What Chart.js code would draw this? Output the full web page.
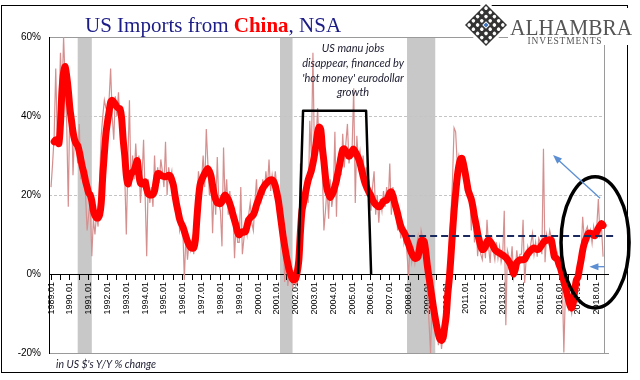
<!DOCTYPE html>
<html lang="en">
<head>
<meta charset="UTF-8" />
<title>US Imports from China, NSA</title>
<script src="https://cdn.jsdelivr.net/npm/chart.js"></script>
<style>
  html, body { margin: 0; padding: 0; background: #fff; }
  #wrap { width: 640px; height: 380px; }
</style>
</head>
<body>
<div id="wrap"><canvas id="chart" width="640" height="380"></canvas></div>
<script>
// monthly y/y % change, first value is 1989.01
const startYear = 1989;

const yoy = [
  22, 28, 35, 52, 34, 40, 56, 45, 60, 49, 38, 17,          // 1989
  44, 45, 25, 36, 33, 28, 38, 24, 31, 26, 20, 11,          // 1990
  15, 18, 4.5, 14, 10, 15, 12, 24, 35, 40, 44, 42,         // 1991
  42, 44, 52, 40, 34, 45, 40, 46, 38, 40, 30, 25,          // 1992
  10, 28, 44, 22, 30, 24, 33, 26, 30, 18, 24, 34,          // 1993
  20, 4.5, 24, 18, 22, 17, 30, 21, 27, 23, 29, 26,         // 1994
  22, 33.5, 20, 27, 24, 26, 19, 22, 14, 17, 11, 13,        // 1995
  12, -1.5, 10, 3.6, 8, 6, 9, 5, 12, 18, 26, 21,           // 1996
  24, 30, 22, 36.7, 28, 20, 26, 10.3, 22, 15, 29.6, 18,    // 1997
  16, 7, 32, 18, 24, 15, 21, 14, 17, 4, 13, 8,             // 1998
  8, 22, 5, 9, 13, 10, 15, 18, 13, 11, 18, 24,             // 1999
  16, 22, 19, 24, 20, 26, 22, 29, 21, 25, 22, 26,          // 2000
  22, 15, 17, 8, 10, -2, 6, -3, 2, -1, -3, 1,              // 2001
  -3, -2, 6, 28, 15, 21, 19, 25, 18, 38.8, 30, 56,         // 2002
  29, 34, 42, 31, 36, 26, 11, 16, 22, 14, 24, 17,          // 2003
  20, 36, 14.5, 29, 31, 25, 35.5, 27, 33, 38, 28, 31,      // 2004
  32, 47, 18, 35, 28, 31, 26, 30, 24, 27, 21, 23,          // 2005
  16, 22, 26, 15, 20, 13, 19, 16, 21, 17, 22, 18,          // 2006
  28, 15, 22, 16, 18, 11, 15, 9, 13, 8, 11, 5,             // 2007
  -0.5, 8, 3, 6, 2.8, 7, 9.5, 5, 11, 9, 3.6, 6,            // 2008
  -4, -12, -20, -6, -10, -15, -13, -18, -14, -19, -15, -10, // 2009
  -6, -1, 8, 15, 24, 37, 36, 28, 30, 26, 29, 27,           // 2010
  22, 24, 19.5, 21, 11, 18, 8, 14, 4.5, 9.5, 5, 3.6,       // 2011
  8, 4, 13.7, 7, 2.8, 9.5, 6, 3.6, 8, 4, 7, 3,             // 2012
  5, 16, -13, 6, 4.4, 2, 7, -1, 1.1, 6, 2, 5,              // 2013
  5, 13.7, -2.3, 4, 7, 5, 7.8, 10.3, 5, 8, 4.4, 9,         // 2014
  8, 5, 31.7, 3, 10, 8, 11, 9, 5, 4.4, 2.8, 5,             // 2015
  1, -2, -1, -19.9, -4, -6, -9, -8, -10, -6, -2.3, -5,     // 2016
  2, 4.4, 5, 14.5, 9, 11, 12, 9, 11, 7.8, 12, 9.5,         // 2017
  12, 19, 10, 12, 4.4                                      // 2018
];

const smoothed = [
  null, null, 33.5, 34, 33.5, 33, 38, 46.5, 51, 52.5, 50, 46.5,
  42, 39, 36, 34, 33, 32.5, 31, 29, 27, 25.5, 23.5, 22,
  20.5, 20, 18.5, 16, 14.8, 14.2, 14.2, 15, 18, 25, 30.5, 35.5,
  38.5, 41, 43.5, 44, 43.5, 43, 42.3, 42, 41.8, 39.5, 34, 30,
  25, 22.8, 24, 25.3, 25.8, 26.2, 27.5, 28.7, 25, 23, 22.8, 23,
  23.3, 21.5, 20.2, 20, 20, 20.2, 21, 23.5, 25.4, 25.4, 25, 24.8,
  24.7, 24.6, 24.8, 25, 24.8, 23.8, 22.5, 20, 17.7, 15.8, 13.9, 12.8,
  12, 10.8, 9.5, 8.3, 7.4, 6.7, 6.5, 6.6, 8.5, 14, 19, 22.5,
  23.8, 24.7, 25.5, 26.2, 26.7, 26, 24.8, 22.5, 20.2, 18.8, 18, 17.9,
  17.8, 18.3, 19.4, 20, 19.5, 18.9, 17.8, 16.6, 15, 13.6, 12.2, 10.5,
  9.9, 10.3, 10.7, 10.6, 10.7, 12.2, 13.7, 14.2, 14.6, 15, 16, 17.4,
  18.5, 19.6, 20.7, 21.6, 22.3, 22.8, 23.2, 23.6, 23.8, 23.8, 23.4, 22.3,
  20.5, 18.5, 15.5, 12.5, 9.5, 7, 4.6, 2.6, 0.8, -0.4, -1.3, -1.5,
  -1.2, 0.5, 3.5, 10.5, 16, 18, 20, 22, 23.8, 25, 26.2, 28,
  30.2, 33, 36, 37.2, 36.5, 32, 28.5, 24.5, 21.5, 20.2, 19.4, 20,
  20.8, 22.2, 23.7, 25.8, 27.6, 29.8, 31.4, 31.7, 31, 30.5, 29.8, 30.2,
  31.2, 31.6, 30.9, 30.2, 29.3, 28.1, 26.5, 24.8, 23.3, 22.2, 21.3, 20.5,
  19.8, 18.8, 18.1, 17.6, 17.3, 17, 17.2, 17.8, 18.4, 18.6, 18.7, 19.5,
  20.5, 20.8, 19.8, 18.2, 16.8, 15.3, 13.6, 12.1, 11.2, 10.6, 9.8, 8.5,
  7.5, 6.3, 5.2, 4.5, 4, 4, 4.4, 6.5, 8.4, 8.6, 8.2, 5.5,
  2, -0.8, -3.5, -6.2, -8.9, -11.2, -13.4, -15.2, -16.5, -16.8, -16.2, -13.5,
  -10.5, -5, -1, 4.5, 10.5, 16, 20.5, 24.5, 27.3, 29, 29.3, 27.8,
  25.8, 23.5, 21.2, 20, 18.9, 17, 14.5, 12.6, 10.3, 8.6, 7, 6.2,
  6.3, 7, 8.2, 8.6, 8.2, 7.7, 7, 6.2, 5.8, 5.5, 5.3, 5,
  4.8, 4.5, 4.2, 3.7, 3.1, 2.4, 1.2, 0, 1.2, 2.9, 3.3, 3.6,
  3.6, 3.6, 3.7, 4.4, 5.1, 5.6, 6, 6.4, 6.6, 6.4, 6.2, 6.3,
  6.8, 7.4, 8, 8.4, 8.5, 8.6, 8.7, 8.6, 6.5, 4.3, 4, 3.6,
  2.3, 1.3, -0.2, -1.7, -3.3, -5, -6.6, -8, -8.6, -7.3, -4, -1.5,
  -0.8, 1.5, 3.6, 6, 7.7, 8.8, 9.8, 10.4, 10.3, 10.2, 9.8, 9.8,
  10.8, 11.6, 12.2, 12.8, 12.3
];

const yTicks = [-20, 0, 20, 40, 60];
const recessions = [['1990.06', '1991.03'], ['2001.03', '2001.11'], ['2007.12', '2009.06']];

// annotations, in (month index, %) units
const noteLines = ['US manu jobs', 'disappear, financed by', "'hot money' eurodollar", 'growth'];
const noteAt = [192.6, 57];
const boxPath = [[157.5, 0], [160.7, 41.3], [200.9, 41.3], [204.1, 0]];
const trendLevel = 9.6, trendFrom = 227.7, trendTo = 359;
const ring = { x0: 325.2, x1: 368.6, y0: -8.6, y1: 24.6 };
const arrows = [
  { from: [350.1, 19.2], to: [320.1, 30.1] },
  { from: [352.9, 1.85], to: [343.3, 1.85] }
];

const months = yoy.map((_, i) => `${startYear + Math.floor(i / 12)}.${String(i % 12 + 1).padStart(2, '0')}`);
const monthIndex = s => (parseInt(s) - startYear) * 12 + parseInt(s.split('.')[1]) - 1;

function drawArrow(ctx, x0, y0, x1, y1) {
  const ang = Math.atan2(y1 - y0, x1 - x0);
  ctx.strokeStyle = '#5b8ed2';
  ctx.fillStyle = '#5b8ed2';
  ctx.lineWidth = 1.3;
  ctx.beginPath();
  ctx.moveTo(x0, y0);
  ctx.lineTo(x1 - 6 * Math.cos(ang), y1 - 6 * Math.sin(ang));
  ctx.stroke();
  ctx.beginPath();
  ctx.moveTo(x1, y1);
  ctx.lineTo(x1 - 9 * Math.cos(ang) + 3.5 * Math.sin(ang), y1 - 9 * Math.sin(ang) - 3.5 * Math.cos(ang));
  ctx.lineTo(x1 - 9 * Math.cos(ang) - 3.5 * Math.sin(ang), y1 - 9 * Math.sin(ang) + 3.5 * Math.cos(ang));
  ctx.closePath();
  ctx.fill();
}

function drawLogo(ctx, cx, cy, r) {
  ctx.save();
  ctx.translate(cx, cy);
  ctx.rotate(Math.PI / 4);
  const s = r / Math.SQRT2;
  ctx.fillStyle = '#fff';
  ctx.fillRect(-s - 3, -s - 3, 2 * s + 6, 2 * s + 6);
  ctx.fillStyle = '#333';
  ctx.fillRect(-s, -s, 2 * s, 2 * s);
  const n = 5, c = 2 * s / n;
  for (let i = 0; i < n; i++) {
    for (let j = 0; j < n; j++) {
      const x = -s + c * (i + 0.5), y = -s + c * (j + 0.5);
      if (i === 2 && j === 2) {
        ctx.fillStyle = '#fff';
        ctx.fillRect(x - c * 0.45, y - c * 0.45, c * 0.9, c * 0.9);
        ctx.fillStyle = '#3f74bf';
        ctx.fillRect(x - c * 0.3, y - c * 0.3, c * 0.6, c * 0.6);
      } else {
        ctx.fillStyle = '#fff';
        ctx.beginPath();
        ctx.arc(x, y, c * 0.3, 0, Math.PI * 2);
        ctx.fill();
      }
    }
  }
  ctx.restore();
}

const decor = {
  id: 'decor',
  beforeDraw(chart) {
    const { ctx, chartArea: a, scales: { x, y } } = chart;
    ctx.save();
    ctx.fillStyle = '#fff';
    ctx.fillRect(0, 0, chart.width, chart.height);
    ctx.fillStyle = '#c8c8c8';
    recessions.forEach(([s, e]) => {
      const x0 = x.getPixelForValue(monthIndex(s)), x1 = x.getPixelForValue(monthIndex(e));
      ctx.fillRect(x0, a.top, x1 - x0, a.bottom - a.top);
    });
    yTicks.forEach(v => {
      const yy = Math.round(y.getPixelForValue(v)) + 0.5;
      ctx.beginPath();
      if (v === 0) {
        ctx.strokeStyle = '#000';
        ctx.setLineDash([]);
        ctx.moveTo(a.right, yy);
        ctx.lineTo(a.right + 5, yy);
      } else if (v === yTicks[0] || v === yTicks[yTicks.length - 1]) {
        ctx.strokeStyle = '#9a9a9a';
        ctx.setLineDash([]);
        ctx.moveTo(a.left, yy);
        ctx.lineTo(a.right + 5, yy);
      } else {
        ctx.strokeStyle = '#c4c4c4';
        ctx.setLineDash([3, 2]);
        ctx.moveTo(a.left, yy);
        ctx.lineTo(a.right, yy);
      }
      ctx.lineWidth = 1;
      ctx.stroke();
    });
    ctx.setLineDash([]);
    ctx.strokeStyle = '#9a9a9a';
    ctx.beginPath();
    ctx.moveTo(Math.round(a.right) + 0.5, a.top);
    ctx.lineTo(Math.round(a.right) + 0.5, a.bottom);
    ctx.stroke();
    ctx.restore();
  },
  afterDatasetsDraw(chart) {
    const { ctx, scales: { x, y } } = chart;
    const px = v => x.getPixelForValue(v), py = v => y.getPixelForValue(v);
    ctx.save();
    // level line
    ctx.strokeStyle = '#1b2a5e';
    ctx.lineWidth = 2;
    ctx.setLineDash([7, 4]);
    ctx.beginPath();
    ctx.moveTo(px(trendFrom), py(trendLevel));
    ctx.lineTo(px(trendTo), py(trendLevel));
    ctx.stroke();
    ctx.setLineDash([]);
    // box over 2002-2005
    ctx.strokeStyle = '#000';
    ctx.lineWidth = 2.5;
    ctx.lineJoin = 'round';
    ctx.beginPath();
    boxPath.forEach(([m, v], i) => i ? ctx.lineTo(px(m), py(v)) : ctx.moveTo(px(m), py(v)));
    ctx.stroke();
    // ring round the latest data
    const ex0 = px(ring.x0), ex1 = px(ring.x1), ey0 = py(ring.y0), ey1 = py(ring.y1);
    ctx.lineWidth = 3.5;
    ctx.beginPath();
    ctx.ellipse((ex0 + ex1) / 2, (ey0 + ey1) / 2, (ex1 - ex0) / 2, Math.abs(ey0 - ey1) / 2, 0, 0, Math.PI * 2);
    ctx.stroke();
    arrows.forEach(a => drawArrow(ctx, px(a.from[0]), py(a.from[1]), px(a.to[0]), py(a.to[1])));
    // note
    ctx.font = 'italic 11px Lato';
    ctx.fillStyle = '#1b1b2f';
    ctx.textAlign = 'center';
    ctx.textBaseline = 'middle';
    noteLines.forEach((t, i) => ctx.fillText(t, px(noteAt[0]), py(noteAt[1]) + i * 14.7));
    ctx.restore();
  },
  afterDraw(chart) {
    const { ctx } = chart;
    ctx.save();
    // frame
    ctx.strokeStyle = '#000';
    ctx.lineWidth = 1;
    ctx.strokeRect(1.5, 5.5, 626, 367);
    // title
    ctx.textBaseline = 'alphabetic';
    ctx.textAlign = 'left';
    let tx = 85;
    const parts = [['US Imports from ', '#1c1c86', ''], ['China', '#ff0000', 'bold '], [', NSA', '#1c1c86', '']];
    parts.forEach(([t, col, w]) => {
      ctx.font = w + '21px "Liberation Serif"';
      ctx.fillStyle = col;
      ctx.fillText(t, tx, 32);
      tx += ctx.measureText(t).width;
    });
    // logo
    drawLogo(ctx, 486, 25, 21);
    ctx.fillStyle = '#fff';
    ctx.fillRect(508, 8, 126, 37);
    ctx.fillStyle = '#555';
    ctx.font = '22px "Liberation Serif"';
    ctx.save();
    ctx.translate(510, 35);
    ctx.scale(0.97, 1.08);
    ctx.fillText('ALHAMBRA', 0, 0);
    ctx.restore();
    ctx.font = '9.5px "Liberation Serif"';
    ctx.letterSpacing = '0.8px';
    ctx.textAlign = 'center';
    ctx.fillText('INVESTMENTS', 565, 44);
    ctx.letterSpacing = '0px';
    // unit note
    ctx.textAlign = 'left';
    ctx.fillStyle = '#1b1b2f';
    ctx.font = 'italic 10.5px Lato';
    ctx.fillText("in US $'s Y/Y % change", 56, 368);
    ctx.restore();
  }
};

new Chart(document.getElementById('chart'), {
  type: 'line',
  data: {
    labels: months,
    datasets: [
      {
        label: 'Smoothed',
        data: smoothed.map((v, i) => ({ x: i, y: v })),
        borderColor: '#ff0000',
        borderWidth: 7,
        borderJoinStyle: 'round',
        borderCapStyle: 'round',
        pointRadius: 0,
        tension: 0.3,
        clip: false
      },
      {
        label: 'Y/Y',
        data: yoy.map((v, i) => ({ x: i, y: v })),
        borderColor: '#d68f8f',
        borderWidth: 1.2,
        pointRadius: 0,
        tension: 0,
        clip: false
      }
    ]
  },
  options: {
    responsive: false,
    animation: false,
    events: [],
    layout: { padding: { left: 0, top: 37, right: 36, bottom: 27 } },
    plugins: {
      legend: { display: false },
      tooltip: { enabled: false }
    },
    scales: {
      x: {
        type: 'linear',
        position: { y: 0 },
        min: -1.3,
        max: 352.6,
        afterBuildTicks: s => {
          const t = [];
          for (let i = 0; i < months.length; i += 6) t.push({ value: i });
          s.ticks = t;
        },
        ticks: {
          autoSkip: false,
          minRotation: 90,
          maxRotation: 90,
          padding: 3,
          color: '#000',
          font: { family: 'Liberation Sans', size: 9 },
          callback: v => (v % 12 === 0 ? months[v] : '')
        },
        grid: { drawOnChartArea: false, drawTicks: true, tickLength: 5, color: '#000' },
        border: { color: '#000', width: 1 }
      },
      y: {
        min: -20,
        max: 60,
        afterFit: s => { s.width = 49; },
        afterBuildTicks: s => { s.ticks = yTicks.map(v => ({ value: v })); },
        ticks: {
          padding: 8,
          color: '#000',
          font: { family: 'Liberation Sans', size: 10 },
          callback: v => v + '%'
        },
        grid: { display: false, drawTicks: false },
        border: { display: true, color: '#000', width: 1 }
      }
    }
  },
  plugins: [decor]
});
</script>
</body>
</html>
